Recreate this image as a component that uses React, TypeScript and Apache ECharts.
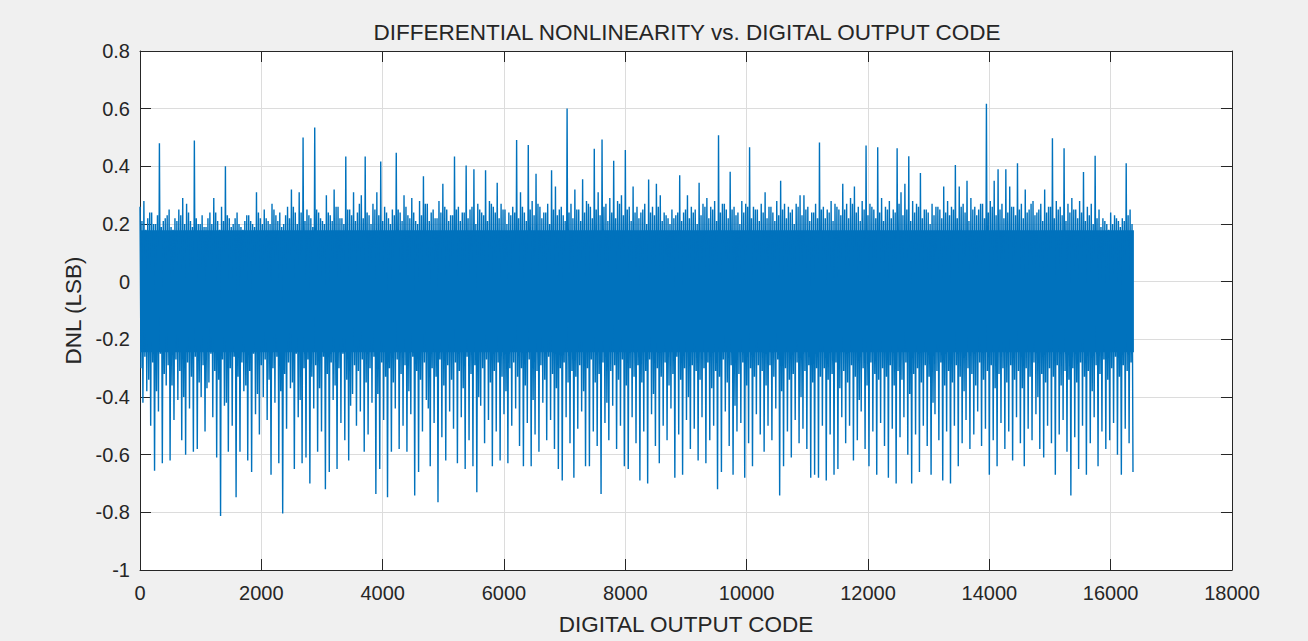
import React, { useEffect, useRef } from "react";
import * as echarts from "echarts";

// Sample spacing in codes. Within each STEP block the trace goes:
// upperVals (code i*STEP) -> fuzzLower (+16) -> fuzzUpper (+32) -> lowerVals (+48)
const STEP = 64;
const LAST_CODE = 16383;

// Upper (positive) DNL excursions incl. the tall spikes
const upperVals: number[] = [
  0.26, 0.28, 0.22, 0.24, 0.2, 0.48, 0.21, 0.23, 0.19, 0.22, 0.25, 0.29, 0.27, 0.21, 0.49, 0.2,
  0.23, 0.19, 0.24, 0.29, 0.21, 0.26, 0.4, 0.22, 0.2, 0.24, 0.19, 0.21, 0.23, 0.2, 0.31, 0.22,
  0.25, 0.21, 0.27, 0.23, 0.24, 0.2, 0.26, 0.32, 0.24, 0.31, 0.5, 0.25, 0.22, 0.535, 0.24, 0.21,
  0.3, 0.23, 0.32, 0.26, 0.22, 0.434, 0.25, 0.31, 0.24, 0.3, 0.434, 0.23, 0.27, 0.31, 0.417, 0.26,
  0.22, 0.25, 0.447, 0.24, 0.3, 0.23, 0.29, 0.21, 0.28, 0.366, 0.27, 0.24, 0.22, 0.28, 0.34, 0.25,
  0.23, 0.434, 0.26, 0.24, 0.403, 0.25, 0.39, 0.27, 0.24, 0.386, 0.28, 0.26, 0.343, 0.27, 0.25, 0.24,
  0.26, 0.491, 0.31, 0.24, 0.474, 0.28, 0.374, 0.26, 0.24, 0.27, 0.386, 0.33, 0.25, 0.23, 0.601, 0.27,
  0.32, 0.25, 0.355, 0.28, 0.26, 0.461, 0.31, 0.493, 0.27, 0.29, 0.419, 0.28, 0.3, 0.457, 0.26, 0.33,
  0.26, 0.24, 0.27, 0.354, 0.26, 0.34, 0.3, 0.24, 0.22, 0.25, 0.23, 0.369, 0.24, 0.3, 0.26, 0.25,
  0.343, 0.27, 0.29, 0.26, 0.28, 0.508, 0.27, 0.25, 0.381, 0.26, 0.24, 0.28, 0.27, 0.466, 0.26, 0.25,
  0.27, 0.31, 0.26, 0.24, 0.28, 0.35, 0.27, 0.26, 0.25, 0.27, 0.3, 0.3, 0.26, 0.24, 0.27, 0.483,
  0.26, 0.25, 0.28, 0.27, 0.25, 0.34, 0.27, 0.29, 0.33, 0.26, 0.28, 0.472, 0.27, 0.25, 0.466, 0.29,
  0.26, 0.28, 0.25, 0.463, 0.31, 0.34, 0.435, 0.28, 0.27, 0.377, 0.25, 0.24, 0.27, 0.26, 0.25, 0.33,
  0.28, 0.26, 0.405, 0.33, 0.27, 0.35, 0.29, 0.26, 0.25, 0.27, 0.617, 0.28, 0.35, 0.39, 0.27, 0.39,
  0.33, 0.26, 0.411, 0.27, 0.32, 0.25, 0.28, 0.24, 0.27, 0.32, 0.26, 0.497, 0.28, 0.26, 0.463, 0.27,
  0.29, 0.25, 0.28, 0.38, 0.26, 0.27, 0.437, 0.25, 0.22, 0.2, 0.24, 0.23, 0.21, 0.22, 0.411, 0.25,
];

// Lower (negative) DNL excursions incl. the deep spikes
const lowerVals: number[] = [
  -0.42, -0.38, -0.5, -0.656, -0.45, -0.63, -0.36, -0.62, -0.48, -0.41, -0.55, -0.6, -0.44, -0.59, -0.58, -0.4,
  -0.52, -0.35, -0.47, -0.61, -0.813, -0.43, -0.59, -0.5, -0.748, -0.59, -0.38, -0.62, -0.66, -0.46, -0.53, -0.4,
  -0.48, -0.67, -0.42, -0.63, -0.804, -0.51, -0.37, -0.65, -0.47, -0.63, -0.61, -0.7, -0.44, -0.59, -0.52, -0.72,
  -0.66, -0.41, -0.65, -0.49, -0.55, -0.62, -0.39, -0.5, -0.45, -0.59, -0.53, -0.42, -0.736, -0.65, -0.48, -0.748,
  -0.59, -0.44, -0.58, -0.5, -0.59, -0.46, -0.742, -0.66, -0.52, -0.41, -0.64, -0.49, -0.765, -0.54, -0.62, -0.45,
  -0.51, -0.63, -0.47, -0.65, -0.55, -0.64, -0.73, -0.43, -0.56, -0.48, -0.64, -0.52, -0.62, -0.46, -0.63, -0.5,
  -0.44, -0.57, -0.64, -0.49, -0.64, -0.53, -0.59, -0.42, -0.55, -0.48, -0.58, -0.65, -0.69, -0.47, -0.56, -0.68,
  -0.51, -0.45, -0.64, -0.64, -0.52, -0.57, -0.736, -0.49, -0.55, -0.43, -0.58, -0.5, -0.64, -0.65, -0.47, -0.56,
  -0.69, -0.52, -0.7, -0.46, -0.57, -0.63, -0.5, -0.55, -0.44, -0.68, -0.53, -0.67, -0.48, -0.58, -0.51, -0.62,
  -0.47, -0.63, -0.55, -0.5, -0.72, -0.66, -0.45, -0.57, -0.67, -0.52, -0.49, -0.68, -0.56, -0.64, -0.46, -0.53,
  -0.59, -0.5, -0.55, -0.44, -0.742, -0.64, -0.52, -0.61, -0.48, -0.56, -0.51, -0.58, -0.68, -0.67, -0.68, -0.5,
  -0.69, -0.53, -0.67, -0.65, -0.47, -0.56, -0.5, -0.62, -0.55, -0.45, -0.58, -0.64, -0.52, -0.67, -0.49, -0.57,
  -0.68, -0.51, -0.7, -0.54, -0.47, -0.6, -0.7, -0.53, -0.66, -0.5, -0.57, -0.67, -0.46, -0.55, -0.69, -0.52,
  -0.7, -0.5, -0.64, -0.56, -0.48, -0.58, -0.53, -0.45, -0.57, -0.51, -0.67, -0.55, -0.64, -0.49, -0.58, -0.52,
  -0.62, -0.47, -0.56, -0.64, -0.51, -0.55, -0.46, -0.58, -0.61, -0.5, -0.56, -0.67, -0.53, -0.48, -0.59, -0.742,
  -0.54, -0.65, -0.5, -0.67, -0.56, -0.47, -0.64, -0.52, -0.58, -0.55, -0.49, -0.6, -0.67, -0.51, -0.56, -0.66,
];

// Intermediate codes: the dense "grass" at the top edge of the trace
const fuzzUpper: number[] = [
  0.21, 0.18, 0.24, 0.2, 0.23, 0.19, 0.22, 0.25, 0.18, 0.21, 0.23, 0.2, 0.24, 0.19, 0.22, 0.2,
  0.19, 0.22, 0.2, 0.24, 0.18, 0.21, 0.23, 0.19, 0.22, 0.2, 0.18, 0.23, 0.21, 0.19, 0.24, 0.2,
  0.22, 0.2, 0.25, 0.21, 0.19, 0.23, 0.22, 0.26, 0.2, 0.24, 0.21, 0.23, 0.19, 0.25, 0.22, 0.2,
  0.24, 0.21, 0.26, 0.22, 0.2, 0.25, 0.23, 0.21, 0.27, 0.22, 0.24, 0.2, 0.25, 0.23, 0.21, 0.24,
  0.2, 0.23, 0.25, 0.21, 0.26, 0.22, 0.24, 0.2, 0.23, 0.27, 0.21, 0.25, 0.22, 0.24, 0.26, 0.21,
  0.23, 0.25, 0.21, 0.24, 0.22, 0.26, 0.2, 0.25, 0.23, 0.21, 0.27, 0.24, 0.22, 0.25, 0.2, 0.23,
  0.24, 0.22, 0.26, 0.21, 0.25, 0.23, 0.27, 0.22, 0.24, 0.2, 0.25, 0.23, 0.26, 0.21, 0.24, 0.22,
  0.25, 0.21, 0.24, 0.27, 0.22, 0.25, 0.23, 0.26, 0.21, 0.24, 0.22, 0.27, 0.23, 0.25, 0.21, 0.24,
  0.22, 0.25, 0.2, 0.24, 0.23, 0.26, 0.21, 0.23, 0.2, 0.22, 0.24, 0.21, 0.25, 0.22, 0.24, 0.2,
  0.23, 0.26, 0.22, 0.25, 0.21, 0.24, 0.27, 0.22, 0.25, 0.23, 0.2, 0.24, 0.26, 0.22, 0.25, 0.21,
  0.24, 0.22, 0.26, 0.21, 0.23, 0.25, 0.22, 0.24, 0.2, 0.26, 0.23, 0.25, 0.21, 0.24, 0.22, 0.25,
  0.22, 0.24, 0.21, 0.26, 0.23, 0.25, 0.22, 0.27, 0.24, 0.21, 0.25, 0.23, 0.26, 0.22, 0.24, 0.21,
  0.25, 0.22, 0.24, 0.27, 0.23, 0.25, 0.21, 0.24, 0.26, 0.22, 0.25, 0.2, 0.23, 0.26, 0.22, 0.24,
  0.23, 0.25, 0.22, 0.26, 0.24, 0.21, 0.25, 0.23, 0.27, 0.22, 0.24, 0.26, 0.23, 0.25, 0.22, 0.24,
  0.26, 0.23, 0.25, 0.22, 0.24, 0.27, 0.23, 0.25, 0.21, 0.24, 0.26, 0.22, 0.25, 0.23, 0.21, 0.24,
  0.25, 0.22, 0.24, 0.21, 0.23, 0.2, 0.22, 0.19, 0.21, 0.18, 0.2, 0.22, 0.19, 0.21, 0.23, 0.2,
];

// Intermediate codes: the dense band just below the core
const fuzzLower: number[] = [
  -0.3, -0.26, -0.34, -0.28, -0.38, -0.25, -0.32, -0.29, -0.36, -0.27, -0.31, -0.4, -0.28, -0.33, -0.26, -0.35,
  -0.29, -0.37, -0.25, -0.31, -0.34, -0.27, -0.42, -0.3, -0.26, -0.33, -0.28, -0.36, -0.31, -0.25, -0.39, -0.29,
  -0.27, -0.34, -0.3, -0.26, -0.38, -0.32, -0.28, -0.35, -0.25, -0.41, -0.3, -0.27, -0.33, -0.29, -0.37, -0.26,
  -0.32, -0.28, -0.36, -0.3, -0.25, -0.34, -0.43, -0.29, -0.31, -0.27, -0.35, -0.3, -0.26, -0.39, -0.28, -0.33,
  -0.3, -0.35, -0.27, -0.32, -0.29, -0.38, -0.26, -0.31, -0.34, -0.28, -0.44, -0.3, -0.33, -0.27, -0.36, -0.29,
  -0.34, -0.28, -0.31, -0.37, -0.26, -0.32, -0.29, -0.4, -0.3, -0.27, -0.35, -0.31, -0.28, -0.33, -0.38, -0.3,
  -0.28, -0.33, -0.3, -0.36, -0.27, -0.41, -0.31, -0.29, -0.34, -0.26, -0.32, -0.37, -0.3, -0.28, -0.35, -0.31,
  -0.33, -0.29, -0.38, -0.3, -0.27, -0.35, -0.32, -0.28, -0.42, -0.31, -0.29, -0.34, -0.27, -0.36, -0.3, -0.33,
  -0.29, -0.35, -0.31, -0.27, -0.39, -0.3, -0.33, -0.28, -0.36, -0.32, -0.26, -0.34, -0.3, -0.4, -0.29, -0.31,
  -0.34, -0.3, -0.28, -0.37, -0.31, -0.33, -0.27, -0.35, -0.29, -0.43, -0.32, -0.28, -0.36, -0.3, -0.33, -0.29,
  -0.31, -0.36, -0.29, -0.33, -0.27, -0.38, -0.3, -0.34, -0.32, -0.28, -0.4, -0.31, -0.29, -0.35, -0.3, -0.33,
  -0.3, -0.34, -0.32, -0.28, -0.37, -0.31, -0.35, -0.29, -0.33, -0.41, -0.3, -0.36, -0.28, -0.32, -0.34, -0.3,
  -0.33, -0.29, -0.36, -0.31, -0.34, -0.28, -0.39, -0.32, -0.3, -0.35, -0.29, -0.33, -0.42, -0.31, -0.28, -0.36,
  -0.31, -0.35, -0.29, -0.33, -0.38, -0.3, -0.32, -0.36, -0.28, -0.34, -0.31, -0.29, -0.37, -0.32, -0.3, -0.35,
  -0.29, -0.34, -0.31, -0.37, -0.3, -0.33, -0.28, -0.4, -0.32, -0.35, -0.3, -0.33, -0.29, -0.36, -0.31, -0.34,
  -0.3, -0.35, -0.28, -0.33, -0.31, -0.38, -0.29, -0.32, -0.27, -0.34, -0.3, -0.26, -0.33, -0.29, -0.31, -0.28,
];

// Dense core of the DNL trace (always covered)
const CORE_LOW = -0.245;
const CORE_HIGH = 0.178;

const xTicks = { min: 0, max: 18000, interval: 2000 };
const yTicks = { min: -1, max: 0.8, interval: 0.2 };

const TITLE = "DIFFERENTIAL NONLINEARITY vs. DIGITAL OUTPUT CODE";
const X_NAME = "DIGITAL OUTPUT CODE";
const Y_NAME = "DNL (LSB)";

const FONT = '"Liberation Sans", Arial, Helvetica, sans-serif';
const TEXT = "#262626";
const AXIS = "#262626";
const GRID = "#dcdcdc";
const BLUE = "#0072BD";

export default function App() {
  const ref = useRef<HTMLDivElement>(null);

  useEffect(() => {
    if (!ref.current) return;
    const chart = echarts.init(ref.current, undefined, { renderer: "svg" });

    const data: [number, number][] = [];
    for (let i = 0; i < upperVals.length; i++) {
      const c = i * STEP;
      data.push([c, upperVals[i]]);
      data.push([c + 16, fuzzLower[i]]);
      data.push([c + 32, fuzzUpper[i]]);
      data.push([c + 48, lowerVals[i]]);
    }

    const axisLine = { show: true, onZero: false, lineStyle: { color: AXIS, width: 1 } };
    const tick = { show: true, inside: true, length: 11, lineStyle: { color: AXIS, width: 1 } };

    chart.setOption({
      animation: false,
      backgroundColor: "#f0f0f0",
      title: {
        text: TITLE,
        left: 682,
        top: 16,
        textAlign: "center",
        textStyle: { color: TEXT, fontSize: 22.5, fontWeight: "normal", fontFamily: FONT },
      },
      grid: {
        left: 140,
        top: 51,
        width: 1092,
        height: 524,
        show: true,
        backgroundColor: "#ffffff",
        borderWidth: 0,
      },
      xAxis: [
        {
          type: "value",
          position: "bottom",
          ...xTicks,
          axisLine,
          axisTick: tick,
          axisLabel: {
            color: TEXT,
            fontSize: 20,
            fontFamily: FONT,
            margin: 13,
            formatter: (v: number) => String(Math.round(v)),
          },
          splitLine: { show: true, lineStyle: { color: GRID, width: 1 } },
          name: X_NAME,
          nameLocation: "middle",
          nameGap: 43,
          nameTextStyle: { color: TEXT, fontSize: 22.5, fontFamily: FONT },
        },
        {
          type: "value",
          position: "top",
          ...xTicks,
          axisLine,
          axisTick: tick,
          axisLabel: { show: false },
          splitLine: { show: false },
        },
      ],
      yAxis: [
        {
          type: "value",
          position: "left",
          ...yTicks,
          axisLine,
          axisTick: tick,
          axisLabel: {
            color: TEXT,
            fontSize: 20,
            fontFamily: FONT,
            margin: 10,
            formatter: (v: number) => String(Math.round(v * 10) / 10),
          },
          splitLine: { show: true, lineStyle: { color: GRID, width: 1 } },
          name: Y_NAME,
          nameLocation: "middle",
          nameGap: 49,
          nameTextStyle: { color: TEXT, fontSize: 22.5, fontFamily: FONT },
        },
        {
          type: "value",
          position: "right",
          ...yTicks,
          axisLine,
          axisTick: tick,
          axisLabel: { show: false },
          splitLine: { show: false },
        },
      ],
      series: [
        {
          type: "line",
          xAxisIndex: 0,
          yAxisIndex: 0,
          data,
          showSymbol: false,
          symbol: "none",
          lineStyle: { color: BLUE, width: 1.4 },
          itemStyle: { color: BLUE },
          z: 3,
          markArea: {
            silent: true,
            itemStyle: { color: BLUE, opacity: 1 },
            label: { show: false },
            data: [[{ coord: [0, CORE_LOW] }, { coord: [LAST_CODE, CORE_HIGH] }]],
          },
        },
      ],
    });

    return () => chart.dispose();
  }, []);

  return (
    <div
      ref={ref}
      style={{ position: "fixed", left: 0, top: 0, width: 1308, height: 641 }}
    />
  );
}
